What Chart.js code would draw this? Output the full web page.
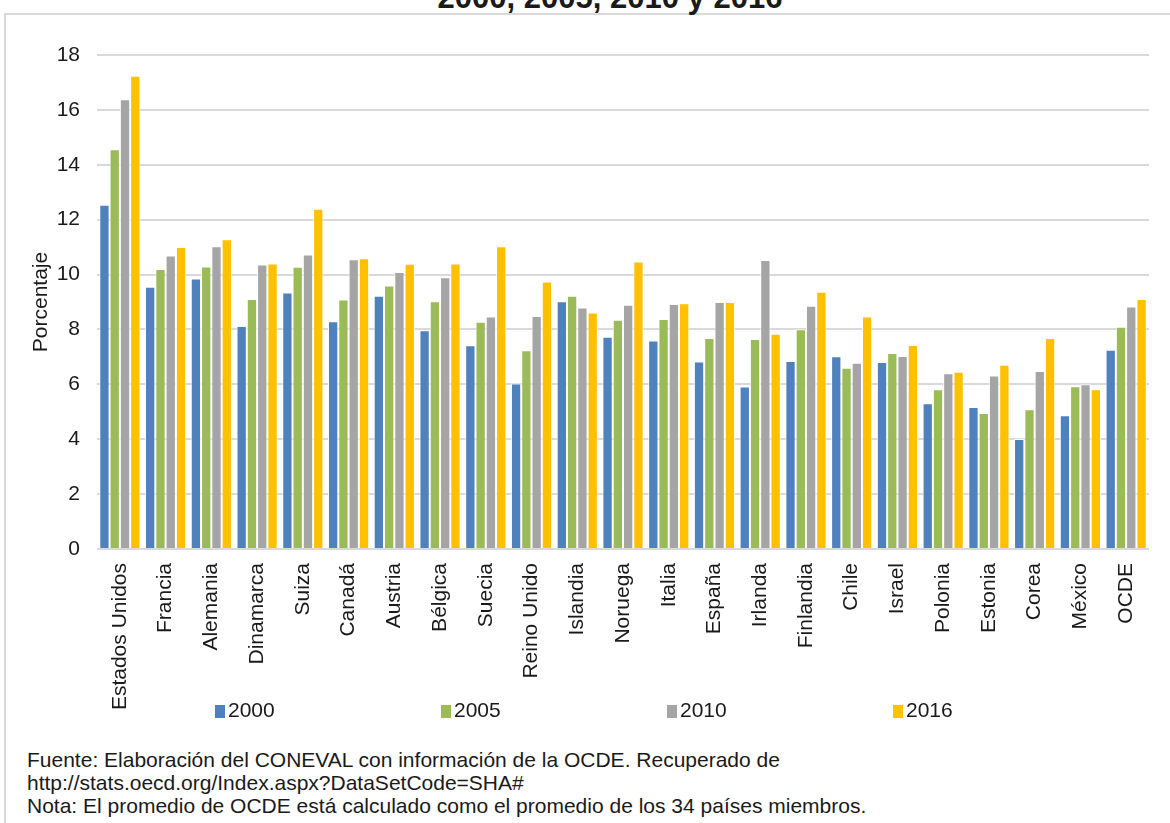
<!DOCTYPE html>
<html>
<head>
<meta charset="utf-8">
<script src="https://cdn.jsdelivr.net/npm/chart.js@4.4.1/dist/chart.umd.min.js"></script>
<style>
    html, body { margin: 0; padding: 0; background: #fff; }
    body { width: 1170px; height: 823px; position: relative; overflow: hidden; font-family: 'Liberation Sans', Arial, sans-serif; color: #1a1a1a; }
    #frame { position: absolute; left: 4px; top: 13px; width: 1200px; height: 900px; border-left: 2px solid #d9d9d9; border-top: 2px solid #d9d9d9; }
    #title { position: absolute; left: 0; width: 1220px; top: -18px; text-align: center; font-weight: bold; font-size: 31px; line-height: 31px; white-space: nowrap; }
    #weeklyChart { position: absolute; left: 0; top: 0; }
    #legend { position: absolute; left: 0; top: 698px; font-size: 21px; line-height: 24px; }
    .item { position: absolute; white-space: nowrap; }
    .box { display: inline-block; width: 10px; height: 13px; margin-right: 3px; vertical-align: -1px; }
    #notes { position: absolute; left: 27px; top: 748px; font-size: 21px; line-height: 23px; white-space: nowrap; }
</style>
</head>
<body>
<div id="frame"></div>
<div id="title">2000, 2005, 2010 y 2016</div>
<canvas id="weeklyChart" width="1170" height="720"></canvas>
<div id="legend"></div>
<div id="notes">
    Fuente: Elaboración del CONEVAL con información de la OCDE. Recuperado de<br>
    http://stats.oecd.org/Index.aspx?DataSetCode=SHA#<br>
    Nota: El promedio de OCDE está calculado como el promedio de los 34 países miembros.
</div>
<script>
const categories = ['Estados Unidos', 'Francia', 'Alemania', 'Dinamarca', 'Suiza', 'Canadá', 'Austria',
    'Bélgica', 'Suecia', 'Reino Unido', 'Islandia', 'Noruega', 'Italia', 'España', 'Irlanda',
    'Finlandia', 'Chile', 'Israel', 'Polonia', 'Estonia', 'Corea', 'México', 'OCDE'];

const seriesNames = ['2000', '2005', '2010', '2016'];

const v2000 = [12.54, 9.56, 9.86, 8.13, 9.35, 8.30, 9.23, 7.97, 7.42, 6.03, 9.03, 7.73,
    7.60, 6.83, 5.92, 6.85, 7.02, 6.81, 5.31, 5.17, 4.01, 4.87, 7.26];
const v2005 = [14.57, 10.20, 10.29, 9.11, 10.28, 9.09, 9.60, 9.03, 8.28, 7.24, 9.23, 8.35,
    8.38, 7.69, 7.65, 8.01, 6.60, 7.14, 5.82, 4.96, 5.09, 5.93, 8.10];
const v2010 = [16.39, 10.69, 11.03, 10.37, 10.73, 10.56, 10.09, 9.90, 8.47, 8.49, 8.80, 8.90,
    8.93, 9.00, 10.53, 8.86, 6.79, 7.03, 6.40, 6.32, 6.49, 6.00, 8.84];
const v2016 = [17.24, 11.00, 11.29, 10.40, 12.40, 10.59, 10.39, 10.40, 11.03, 9.75, 8.62, 10.48,
    8.95, 9.00, 7.84, 9.37, 8.47, 7.43, 6.46, 6.71, 7.69, 5.82, 9.11];

const yTicks = [0, 2, 4, 6, 8, 10, 12, 14, 16, 18];

const colors = ['#4f81bd', '#9bbb59', '#a5a5a5', '#ffc000'];
const FONT = "'Liberation Sans', Arial, sans-serif";
const TEXT = '#1a1a1a';

const values = [v2000, v2005, v2010, v2016];

const datasets = seriesNames.map((name, i) => ({
    label: name,
    data: values[i],
    backgroundColor: colors[i],
    borderColor: 'rgba(255,255,255,0.85)',
    borderWidth: 1,
    categoryPercentage: 0.9,
    barPercentage: 1.0
}));

// legend in html, spread out like the original
const legend = document.getElementById('legend');
seriesNames.forEach((name, i) => {
    const el = document.createElement('span');
    el.className = 'item';
    el.style.left = (215 + i * 226) + 'px';
    el.innerHTML = '<span class="box" style="background:' + colors[i] + '"></span>' + name;
    legend.appendChild(el);
});

new Chart(document.getElementById('weeklyChart'), {
    type: 'bar',
    data: { labels: categories, datasets: datasets },
    options: {
        responsive: false,
        animation: false,
        layout: { padding: { left: 29, right: 21, top: 55, bottom: 0 } },
        plugins: {
            legend: { display: false },
            tooltip: { enabled: false }
        },
        scales: {
            x: {
                grid: { display: false },
                border: { display: false },
                ticks: {
                    autoSkip: false,
                    minRotation: 90,
                    maxRotation: 90,
                    padding: 6,
                    color: TEXT,
                    font: { family: FONT, size: 21 }
                },
                afterFit: function(scale) {
                    scale.height = 171;
                }
            },
            y: {
                min: 0,
                max: 18,
                afterBuildTicks: function(scale) {
                    scale.ticks = yTicks.map(v => ({ value: v }));
                },
                grid: {
                    color: '#d9d9d9',
                    lineWidth: 2,
                    drawTicks: false
                },
                border: { display: false },
                ticks: {
                    padding: 17,
                    color: TEXT,
                    font: { family: FONT, size: 21 }
                },
                title: {
                    display: true,
                    text: 'Porcentaje',
                    color: TEXT,
                    padding: { top: 0, bottom: 0 },
                    font: { family: FONT, size: 21 }
                },
                afterFit: function(scale) {
                    scale.width = 68;
                }
            }
        }
    }
});
</script>
</body>
</html>
